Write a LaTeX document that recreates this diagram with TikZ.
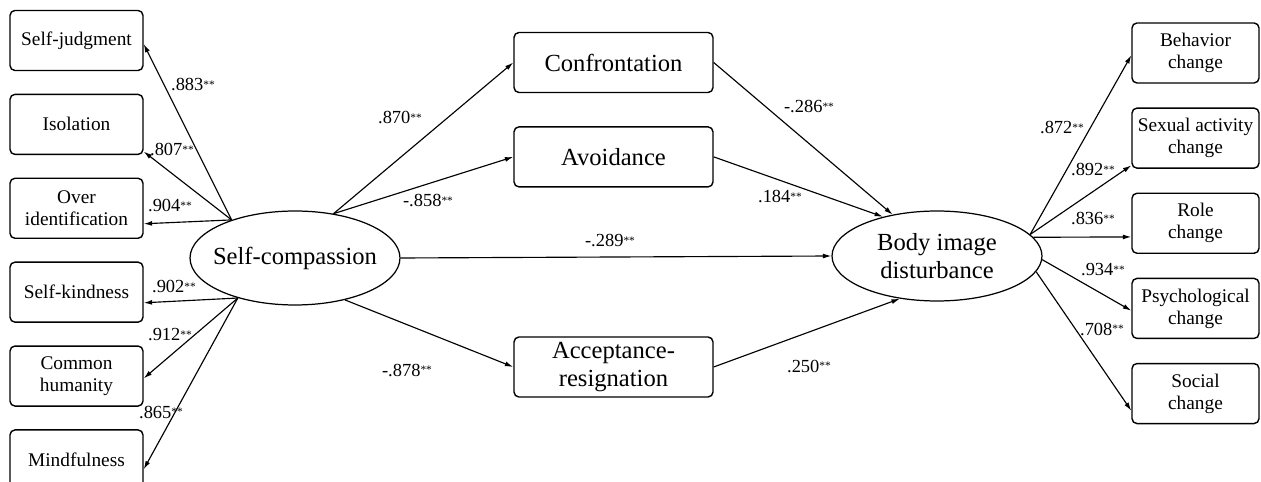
\documentclass[tikz,border=0pt]{standalone}
\usepackage{fontspec}
\setmainfont{Liberation Serif}
\usetikzlibrary{shapes.geometric,arrows.meta,positioning}

\newcommand{\sig}[1]{#1\raisebox{.25ex}{\fontsize{6.5}{7}\selectfont **}}

\begin{document}
\begin{tikzpicture}[
  x=0.02cm, y=-0.02cm,
  item/.style={draw, line width=0.8pt, rounded corners=2.8pt,
               minimum width=2.66cm, minimum height=1.2cm,
               align=center, inner sep=1pt, font=\fontsize{11}{12.5}\selectfont},
  ritem/.style={item, minimum width=2.54cm},
  coping/.style={item, minimum width=3.98cm, font=\fontsize{14}{15.5}\selectfont},
  latent/.style={draw, ellipse, line width=0.7pt, inner sep=0pt,
                 minimum width=4.2cm, minimum height=1.88cm,
                 align=center, font=\fontsize{14}{16}\selectfont},
  wt/.style={font=\fontsize{10.5}{12}\selectfont, inner sep=0pt},
  >={Latex[length=4.8pt,width=2.8pt]}, line width=0.65pt,
  node distance=0.45cm
]
\useasboundingbox (0,0) rectangle (1261,482);

% latent variables
\node[latent, inner xsep=-0.16cm] (selfc) at (295,258) {Self-compassion};
\node[latent, minimum height=1.8cm] (bid) at (937,256) {Body image\\disturbance};

% self-compassion items
\node[item] (sj) at (76.5,40.5) {Self-judgment};
\node[item, below=of sj]  (iso) {Isolation};
\node[item, below=of iso] (oi)  {Over\\identification};
\node[item, below=of oi]  (sk)  {Self-kindness};
\node[item, below=of sk]  (ch)  {Common\\humanity};
\node[item, below=of ch]  (mf)  {Mindfulness};

% coping modes
\node[coping] (conf) at (613.5,62.5) {Confrontation};
\node[coping, below=0.66cm of conf] (avoid) {Avoidance};
\node[coping] (accept) at (613.5,367) {Acceptance-\\resignation};

% body image items
\node[ritem] (bc) at (1195.5,53) {Behavior\\change};
\node[ritem, below=0.475cm of bc]  (sac) {Sexual activity\\change};
\node[ritem, below=0.475cm of sac] (rc)  {Role\\change};
\node[ritem, below=0.475cm of rc]  (pc)  {Psychological\\change};
\node[ritem, below=0.475cm of pc]  (soc) {Social\\change};

% loadings, left
\draw[->] (selfc.149) -- (sj.-3);
\draw[->] (selfc.149) -- (iso.-22);
\draw[->] (selfc.149) -- (oi.-13);
\draw[->] (selfc.215) -- (sk.-9);
\draw[->] (selfc.215) -- (ch.-2);
\draw[->] (selfc.215) -- (mf.-8);

% paths
\draw[->] (selfc.49)  -- (conf.west);
\draw[->] (selfc.49)  -- (avoid.west);
\draw[->] (selfc.east) -- (bid.west);
\draw[->] (selfc.-40) -- (accept.west);
\draw[->] (conf.east)   -- (bid.137);
\draw[->] (avoid.east)  -- (bid.144);
\draw[->] (accept.east) -- (bid.-131);

% loadings, right
\draw[->] (bid.13)  -- (bc.182);
\draw[->] (bid.13)  -- (sac.203);
\draw[->] (bid.11)  -- (rc.192);
\draw[->] (bid.-2)  -- (pc.182);
\draw[->] (bid.-9)  -- (soc.195);

% coefficients
\node[wt] (w883) at (193,85)  {\sig{.883}};
\node[wt] (w807) at (172,150) {\sig{.807}};
\node[wt] (w904) at (170,206) {\sig{.904}};
\node[wt] (w902) at (174,287) {\sig{.902}};
\node[wt] (w912) at (170,335) {\sig{.912}};
\node[wt] (w865) at (161,412) {\sig{.865}};

\node[wt] (w870) at (400,118) {\sig{.870}};
\node[wt] (w858) at (428,201) {\sig{-.858}};
\node[wt] (w289) at (610,241) {\sig{-.289}};
\node[wt] (w878) at (407,370) {\sig{-.878}};
\node[wt] (w286) at (809,107) {\sig{-.286}};
\node[wt] (w184) at (780,197) {\sig{.184}};
\node[wt] (w250) at (809,366) {\sig{.250}};

\node[wt] (w872) at (1062,128) {\sig{.872}};
\node[wt] (w892) at (1093,170) {\sig{.892}};
\node[wt] (w836) at (1093,219) {\sig{.836}};
\node[wt] (w934) at (1103,270) {\sig{.934}};
\node[wt] (w708) at (1102,329) {\sig{.708}};
\end{tikzpicture}
\end{document}
